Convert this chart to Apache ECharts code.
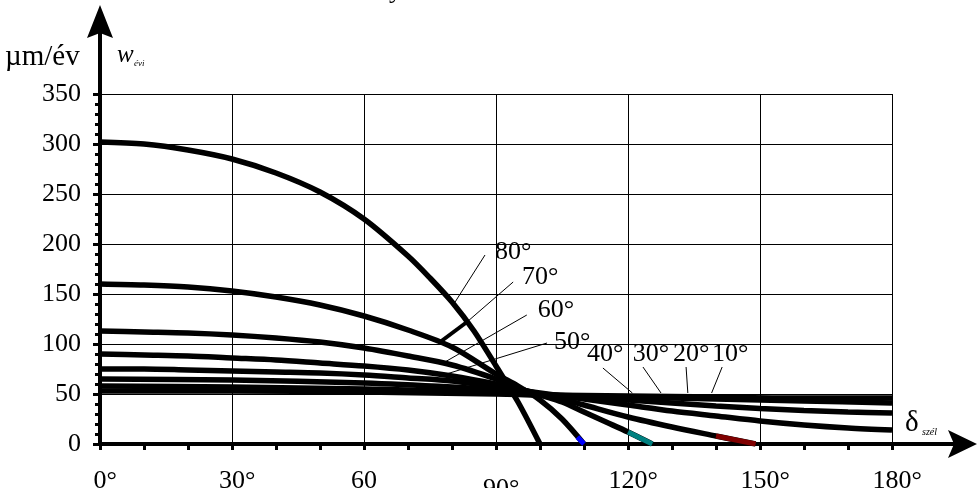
<!DOCTYPE html>
<html>
<head>
<meta charset="utf-8">
<script src="https://cdn.jsdelivr.net/npm/echarts@6/dist/echarts.min.js"></script>
<style>
html, body { margin: 0; padding: 0; background: #fff; }
#chart { width: 978px; height: 488px; }
</style>
</head>
<body>
<div id="chart"></div>
<script>
// curves: wear rate (µm/év) against wind direction δ, one per angle
var curve80 = [[0,302],[10,300],[20,294],[30,285],[40,271],[50,252],[60,225],[70,188],[75,166],[80,142],[85,113],[90,78],[95,42],[100,0]];
var curve70 = [[0,160],[10,159],[20,157],[30,153],[40,147],[50,139],[60,128],[70,114],[80,97],[90,70],[95,58],[100,44],[105,25],[110,0]];
var curve60 = [[0,113],[10,112],[20,111],[30,109],[40,106],[50,102],[60,96],[70,88],[80,79],[90,65],[95,56],[100,49],[105,42],[110,32],[115,22],[120,12],[125.5,0]];
var curve50 = [[0,90],[10,89],[20,88],[30,86],[40,84],[50,81],[60,78],[70,74],[80,68],[90,60],[95,55],[100,50],[105,45],[110,39],[120,27],[130,17],[140,8],[149,0]];
var curve40 = [[0,75],[10,75],[20,74],[30,73],[40,72],[50,71],[60,69],[70,66],[80,63],[90,57],[100,51],[110,45],[120,39],[130,33],[140,28],[150,23],[160,19],[170,16],[180,14]];
var curve30 = [[0,65],[30,64],[60,61],[80,57],[90,54],[100,50],[110,47],[120,44],[130,41],[140,38],[150,35.5],[160,33.5],[170,32],[180,31]];
var curve20 = [[0,58],[30,57],[60,55],[80,53],[90,51],[100,49],[120,47],[140,45],[160,43],[180,41]];
var curve10 = [[0,53],[30,53],[60,52],[90,50],[100,49],[120,48],[140,47],[160,46],[180,46]];

// coloured end pieces of three curves
var tail70 = [[108.5,7],[110,0]];
var tail60 = [[120,12],[125.5,0]];
var tail50 = [[140,8],[149,0]];

var curveNames = ['80°','70°','60°','50°','40°','30°','20°','10°'];
var curves = [curve80, curve70, curve60, curve50, curve40, curve30, curve20, curve10];

var xTicks = [0, 30, 60, 90, 120, 150, 180];
var yTicks = [0, 50, 100, 150, 200, 250, 300, 350];

var FONT = 'Liberation Serif';

var myChart = echarts.init(document.getElementById('chart'));

var series = curves.map(function (c, i) {
    return {
        name: curveNames[i],
        type: 'line',
        data: c,
        smooth: 0.3,
        symbol: 'none',
        lineStyle: { color: '#000', width: 5.5 },
        z: 3
    };
});
[[tail70, '#0000ff'], [tail60, '#008080'], [tail50, '#800000']].forEach(function (t) {
    series.push({
        type: 'line',
        data: t[0],
        symbol: 'none',
        lineStyle: { color: t[1], width: 5 },
        z: 4
    });
});

option = {
    animation: false,
    backgroundColor: '#fff',
    grid: { left: 100, right: 86, top: 94, bottom: 44, outerBoundsMode: 'none', containLabel: false },
    xAxis: {
        type: 'value',
        min: 0,
        max: 180,
        interval: 30,
        axisLine: { lineStyle: { color: '#000', width: 4 } },
        axisTick: { length: 6, lineStyle: { color: '#000', width: 3 } },
        minorTick: { show: true, splitNumber: 3, length: 6, lineStyle: { color: '#000', width: 3 } },
        splitLine: { show: true, lineStyle: { color: '#000', width: 1 } },
        axisLabel: {
            margin: 24,
            color: '#000',
            fontFamily: FONT,
            fontSize: 26,
            formatter: function (v) {
                if (v === 60) return '60';
                if (v === 90) return '{q|°}{d|90°}';
                return '{p|°}' + v + '°';
            },
            rich: {
                p: { color: 'rgba(0,0,0,0)', fontFamily: FONT, fontSize: 26 },
                q: { color: 'rgba(0,0,0,0)', fontFamily: FONT, fontSize: 26, padding: [8, 0, 0, 0] },
                d: { color: '#000', fontFamily: FONT, fontSize: 26, padding: [8, 0, 0, 0] }
            }
        }
    },
    yAxis: {
        type: 'value',
        min: 0,
        max: 350,
        interval: 50,
        axisLine: { show: true, lineStyle: { color: '#000', width: 4 } },
        axisTick: { show: true, length: 7, lineStyle: { color: '#000', width: 3 } },
        minorTick: { show: true, splitNumber: 5, length: 5, lineStyle: { color: '#000', width: 3 } },
        splitLine: { show: true, lineStyle: { color: '#000', width: 1 } },
        axisLabel: { margin: 19, color: '#000', fontFamily: FONT, fontSize: 26 }
    },
    series: series
};
myChart.setOption(option);

// annotations in data coordinates: label spot, leader line start and end
var notes = [
    { text: '80°', at: [89.8, 192], lines: [[[87.5, 189], [80.7, 142], 1]] },
    { text: '70°', at: [95.9, 167], lines: [[[93.9, 162], [83.4, 122], 1], [[83.4, 122], [77.3, 102], 4]] },
    { text: '60°', at: [99.5, 134], lines: [[[97, 129], [78, 81], 1]] },
    { text: '50°', at: [103.2, 102], lines: [[[101.6, 101], [78, 69], 1]] },
    { text: '40°', at: [110.7, 90], lines: [[[114.3, 76], [121, 51], 1]] },
    { text: '30°', at: [121.1, 90], lines: [[[123.4, 77], [127.5, 51], 1]] },
    { text: '20°', at: [130.2, 90], lines: [[[133.2, 77], [133.6, 51], 1]] },
    { text: '10°', at: [139.1, 90], lines: [[[141.4, 77], [139, 51], 1]] }
];

function px(p) { return myChart.convertToPixel({ gridIndex: 0 }, p); }

var g = [];
notes.forEach(function (n) {
    var a = px(n.at);
    g.push({ type: 'text', x: a[0], y: a[1], z: 10,
        style: { text: n.text, fill: '#000', font: '26px ' + FONT, verticalAlign: 'middle', align: 'left' } });
    n.lines.forEach(function (l) {
        var s = px(l[0]), e = px(l[1]);
        g.push({ type: 'line', z: 10, shape: { x1: s[0], y1: s[1], x2: e[0], y2: e[1] },
            style: { stroke: '#000', lineWidth: l[2] } });
    });
});

// axis extensions with arrow heads
var origin = px([0, 0]), yEnd = px([0, 350]), xEnd = px([180, 0]);
g.push({ type: 'line', z: 5, shape: { x1: origin[0], y1: yEnd[1], x2: origin[0], y2: 30 }, style: { stroke: '#000', lineWidth: 4 } });
g.push({ type: 'polygon', z: 5, shape: { points: [[origin[0], 5], [origin[0] + 13, 38], [origin[0], 33], [origin[0] - 13, 38]] }, style: { fill: '#000' } });
g.push({ type: 'line', z: 5, shape: { x1: xEnd[0], y1: origin[1], x2: 960, y2: origin[1] }, style: { stroke: '#000', lineWidth: 4 } });
g.push({ type: 'polygon', z: 5, shape: { points: [[977, origin[1]], [948, origin[1] - 14], [954, origin[1]], [948, origin[1] + 14]] }, style: { fill: '#000' } });

// axis names
g.push({ type: 'text', x: 5, y: 57, style: { text: 'µm/év', fill: '#000', font: '29px ' + FONT, verticalAlign: 'middle' } });
g.push({ type: 'text', x: 117, y: 55, style: { text: 'w', fill: '#000', font: 'italic 25px ' + FONT, verticalAlign: 'middle' } });
g.push({ type: 'text', x: 134, y: 64, style: { text: 'évi', fill: '#000', font: 'italic 9px ' + FONT, verticalAlign: 'middle' } });
g.push({ type: 'text', x: 905, y: 423, style: { text: 'δ', fill: '#000', font: '29px ' + FONT, verticalAlign: 'middle' } });
g.push({ type: 'text', x: 922, y: 432, style: { text: 'szél', fill: '#000', font: 'italic 10px ' + FONT, verticalAlign: 'middle' } });
// tail of a cut-off title letter at the top edge
g.push({ type: 'text', x: 389, y: -22, style: { text: 'y', fill: '#000', font: '26px ' + FONT, verticalAlign: 'top' } });

myChart.setOption({ graphic: g });
</script>
</body>
</html>
